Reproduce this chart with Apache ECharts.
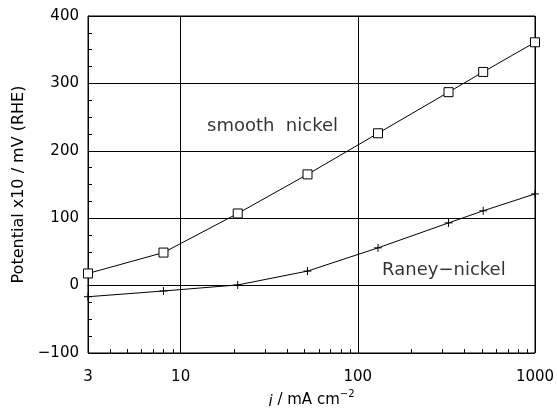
<!DOCTYPE html>
<html>
<head>
<meta charset="utf-8">
<script src="https://cdn.jsdelivr.net/npm/echarts@6/dist/echarts.min.js"></script>
<style>html,body{margin:0;padding:0;background:#fff}#c{width:557px;height:408px}</style>
</head>
<body>
<div id="c"></div>
<script>
// Data
var currentDensity = [3, 8, 21, 52, 130, 325, 510, 1000];          // i / mA cm^-2
var smoothNickel   = [18, 49, 107, 165, 226, 287, 317, 361];       // Potential x10 / mV (RHE)
var raneyNickel    = [-16.5, -8, 1, 21.5, 56, 93, 111, 136];
var xMinorTicks    = [4,5,6,7,8,9,20,30,40,50,60,70,80,90,200,300,400,500,600,700,800,900];
var yTicks         = [-100, 0, 100, 200, 300, 400];
var xTickLabels    = [3, 10, 100, 1000];
var annotations    = [[33, 236, 'smooth  nickel'], [306, 23, 'Raney−nickel']];

var FONT = 'DejaVu Sans';
function pairs(xs, ys){ return xs.map(function(x,i){ return [x, ys[i]]; }); }

var chart = echarts.init(document.getElementById('c'), null, {renderer:'canvas'});
chart.setOption({
  backgroundColor: '#fff',
  animation: false,
  grid: { left: 88, right: 22, top: 16, bottom: 55, outerBoundsMode: 'none', containLabel: false,
          show: true, borderColor: '#000', borderWidth: 1, backgroundColor: 'transparent' },
  xAxis: {
    type: 'log', logBase: 10, min: 3, max: 1000,
    axisLine: { show: true, lineStyle: { color: '#000', width: 1 } },
    axisTick: { show: false },
    splitLine: { show: true, lineStyle: { color: '#000', width: 1 } },
    axisLabel: { color: '#000', fontFamily: FONT, fontSize: 15, margin: 17,
      formatter: function(v){ var r = Math.round(v); return xTickLabels.indexOf(r) >= 0 ? String(r) : ''; } },
    name: '{it|i} / mA cm{sup|−2}',
    nameLocation: 'middle', nameGap: 35,
    nameTextStyle: { color: '#000', fontFamily: FONT, fontSize: 15,
      rich: {
        it: { fontStyle: 'italic', fontFamily: FONT, fontSize: 15, color: '#000', lineHeight: 20, verticalAlign: 'bottom' },
        sup: { fontFamily: FONT, fontSize: 10, color: '#000', lineHeight: 20, verticalAlign: 'top' }
      } }
  },
  yAxis: {
    type: 'value', min: yTicks[0], max: yTicks[yTicks.length-1], interval: 100,
    axisLine: { show: true, lineStyle: { color: '#000', width: 1 } },
    axisTick: { show: true, inside: true, length: 4, lineStyle: { color: '#000' } },
    minorTick: { show: true, splitNumber: 4, length: 4, lineStyle: { color: '#000' } },
    splitLine: { show: true, lineStyle: { color: '#000', width: 1 } },
    axisLabel: { color: '#000', fontFamily: FONT, fontSize: 15, margin: 9,
      formatter: function(v){ return v < 0 ? '−' + Math.abs(v) : String(v); } },
    name: 'Potential x10 / mV (RHE)',
    nameLocation: 'middle', nameGap: 61,
    nameTextStyle: { color: '#000', fontFamily: FONT, fontSize: 16 }
  },
  series: [
    {
      name: 'smooth nickel', type: 'line', data: pairs(currentDensity, smoothNickel),
      symbol: 'rect', symbolSize: 9,
      itemStyle: { color: '#fff', borderColor: '#000', borderWidth: 1 },
      lineStyle: { color: '#000', width: 1 },
      z: 3
    },
    {
      name: 'Raney-nickel', type: 'line', data: pairs(currentDensity, raneyNickel),
      symbol: 'path://M5,0L5,10M0,5L10,5', symbolSize: 8, symbolKeepAspect: true,
      itemStyle: { color: 'none', borderColor: '#000', borderWidth: 1 },
      lineStyle: { color: '#000', width: 1 },
      z: 3
    },
    {
      name: 'labels', type: 'scatter', silent: true,
      data: annotations,
      symbol: 'circle', symbolSize: 1,
      itemStyle: { color: 'rgba(0,0,0,0)' },
      label: { show: true, position: 'inside', color: '#000', fontFamily: FONT, fontSize: 18,
        formatter: function(p){ return p.value[2]; } },
      z: 4
    },
    {
      name: 'minor x ticks', type: 'custom', silent: true,
      data: xMinorTicks.map(function(v){ return [v, yTicks[0]]; }),
      renderItem: function(params, api){
        var p = api.coord([api.value(0), api.value(1)]);
        var x = Math.round(p[0]) + 0.5;
        return { type: 'line', shape: { x1: x, y1: p[1], x2: x, y2: p[1] - 4 }, style: { stroke: '#000', lineWidth: 1 } };
      },
      z: 2
    }
  ]
});
</script>
</body>
</html>
